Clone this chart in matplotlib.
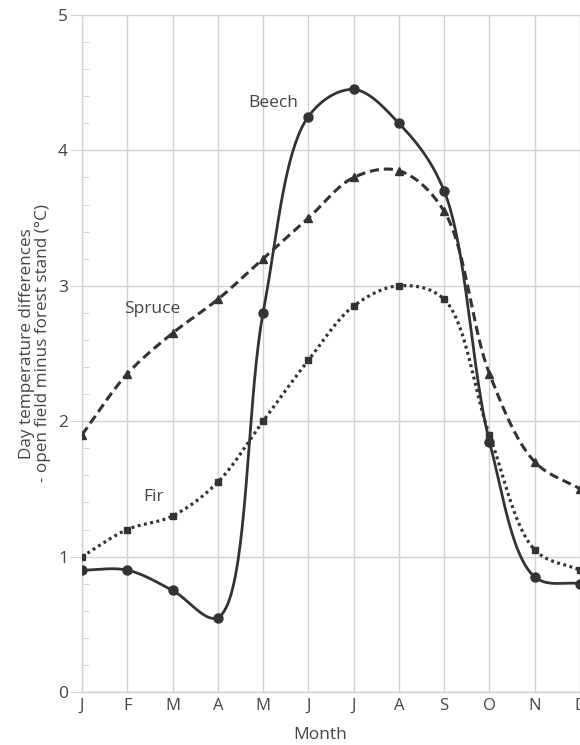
import numpy as np
import matplotlib
matplotlib.use("Agg")
import matplotlib.pyplot as plt
from matplotlib.ticker import MultipleLocator

months = ["J", "F", "M", "A", "M", "J", "J", "A", "S", "O", "N", "D"]
beech = [0.9, 0.9, 0.75, 0.55, 2.8, 4.25, 4.45, 4.2, 3.7, 1.85, 0.85, 0.8]
spruce = [1.9, 2.35, 2.65, 2.9, 3.2, 3.5, 3.8, 3.85, 3.55, 2.35, 1.7, 1.5]
fir = [1.0, 1.2, 1.3, 1.55, 2.0, 2.45, 2.85, 3.0, 2.9, 1.9, 1.05, 0.9]

INK = "#333333"
TXT = "#444444"
GRID = "#d0d0d0"
plt.rcParams['font.family'] = ['Open Sans', 'DejaVu Sans']

# pixel scale of one month / one degree, used so the smoothing looks right on screen
SX, SY = 45.27, 135.4


def smooth(xs, ys, n=40, alpha=0.5):
    # centripetal catmull-rom through the points, done in screen units
    p = np.column_stack([np.asarray(xs) * SX, np.asarray(ys) * SY]).astype(float)
    p = np.vstack([2 * p[0] - p[1], p, 2 * p[-1] - p[-2]])
    out = []
    for i in range(1, len(p) - 2):
        p0, p1, p2, p3 = p[i - 1], p[i], p[i + 1], p[i + 2]
        t0 = 0.0
        t1 = t0 + np.linalg.norm(p1 - p0) ** alpha
        t2 = t1 + np.linalg.norm(p2 - p1) ** alpha
        t3 = t2 + np.linalg.norm(p3 - p2) ** alpha
        t = np.linspace(t1, t2, n)[:, None]
        a1 = (t1 - t) / (t1 - t0) * p0 + (t - t0) / (t1 - t0) * p1
        a2 = (t2 - t) / (t2 - t1) * p1 + (t - t1) / (t2 - t1) * p2
        a3 = (t3 - t) / (t3 - t2) * p2 + (t - t2) / (t3 - t2) * p3
        b1 = (t2 - t) / (t2 - t0) * a1 + (t - t0) / (t2 - t0) * a2
        b2 = (t3 - t) / (t3 - t1) * a2 + (t - t1) / (t3 - t1) * a3
        out.append((t2 - t) / (t2 - t1) * b1 + (t - t1) / (t2 - t1) * b2)
    c = np.vstack(out)
    return c[:, 0] / SX, c[:, 1] / SY


x = np.arange(len(months))

fig = plt.figure(figsize=(5.8, 7.45), dpi=100)
ax = fig.add_axes([82 / 580, 1 - 692 / 745, 1 - 82 / 580, (692 - 15) / 745])

sx, sy = smooth(x, spruce)
ax.plot(sx, sy, color=INK, lw=2.2, ls=(0, (3, 1.6)), zorder=3)
ax.plot(x, spruce, ls="none", marker="^", ms=5.5, color=INK, zorder=4)

fx, fy = smooth(x, fir)
ax.plot(fx, fy, color=INK, lw=2.3, ls=(0, (0.9, 1.1)), zorder=3)
ax.plot(x, fir, ls="none", marker="s", ms=4, color=INK, zorder=4)

bx, by = smooth(x, beech)
ax.plot(bx, by, color=INK, lw=2.0, zorder=5)
ax.plot(x, beech, ls="none", marker="o", ms=6.5, color=INK, zorder=6)

ax.text(4.22, 4.35, "Beech", fontsize=12.5, color=TXT, ha="center", va="center")
ax.text(1.55, 2.83, "Spruce", fontsize=12.5, color=TXT, ha="center", va="center")
ax.text(1.57, 1.44, "Fir", fontsize=12.5, color=TXT, ha="center", va="center")

ax.set_xlim(0, 11)
ax.set_ylim(0, 5)
ax.set_xticks(x)
ax.set_xticklabels(months)
ax.set_yticks([0, 1, 2, 3, 4, 5])
ax.yaxis.set_minor_locator(MultipleLocator(0.2))
ax.grid(True, which="major", color=GRID, lw=1.0, zorder=0)
ax.set_axisbelow(True)
for s in ["top", "right"]:
    ax.spines[s].set_visible(False)
for s in ["left", "bottom"]:
    ax.spines[s].set_color(GRID)
    ax.spines[s].set_linewidth(1.0)
ax.tick_params(axis="y", which="major", length=9, color=GRID, labelsize=12.5,
               labelcolor=TXT, pad=1)
ax.tick_params(axis="y", which="minor", direction="in", length=5, color=GRID)
ax.tick_params(axis="x", length=0, labelsize=12, labelcolor=TXT, pad=4)

ax.set_xlabel("Month", fontsize=12.5, color=TXT)
ax.xaxis.set_label_coords(0.478, -0.052)
ax.set_ylabel("Day temperature differences\n- open field minus forest stand (°C)",
              fontsize=12.3, color=TXT, linespacing=1.0)
ax.yaxis.set_label_coords(-0.062, 0.515)

fig.savefig("out.png", dpi=100)
